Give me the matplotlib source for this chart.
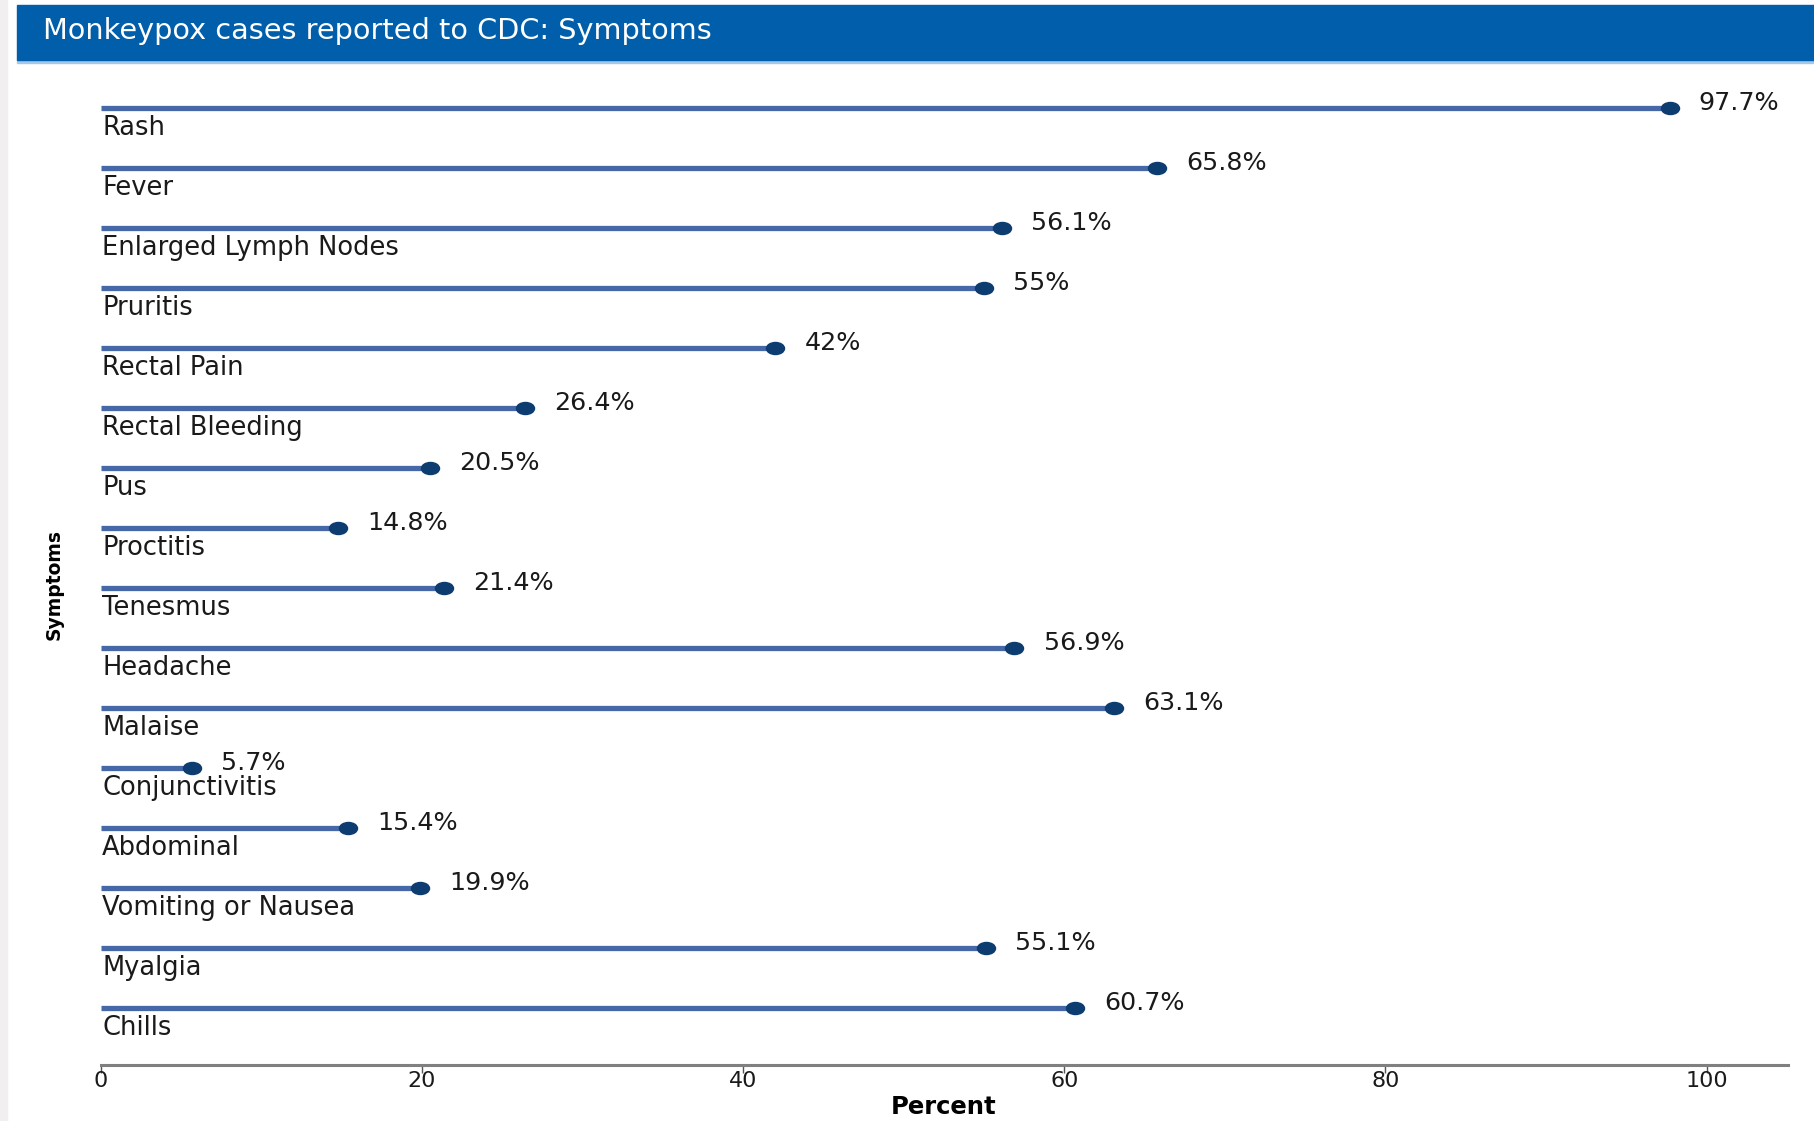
import matplotlib.pyplot as plt
from matplotlib.patches import Rectangle
from matplotlib.path import Path
from matplotlib.transforms import Affine2D

symptoms = ["Rash", "Fever", "Enlarged Lymph Nodes", "Pruritis", "Rectal Pain",
            "Rectal Bleeding", "Pus", "Proctitis", "Tenesmus", "Headache",
            "Malaise", "Conjunctivitis", "Abdominal", "Vomiting or Nausea",
            "Myalgia", "Chills"]
percents = [97.7, 65.8, 56.1, 55, 42, 26.4, 20.5, 14.8, 21.4, 56.9, 63.1,
            5.7, 15.4, 19.9, 55.1, 60.7]
xTicks = [0, 20, 40, 60, 80, 100]

plt.rcParams['font.family'] = ['DejaVu Sans']

W, H = 1814, 1121
fig = plt.figure(figsize=(W / 100, H / 100), dpi=100)
fig.patch.set_facecolor('white')

# left gray strip and header band
fig.patches.append(Rectangle((0, 0), 7 / W, 1, transform=fig.transFigure,
                             color='#f1efef', zorder=0))
fig.patches.append(Rectangle((17 / W, 1 - 63 / H), 1, 4 / H, transform=fig.transFigure,
                             color='#a4c8ea', zorder=1))
fig.patches.append(Rectangle((17 / W, 1 - 60 / H), 1, 55 / H, transform=fig.transFigure,
                             color='#005eaa', zorder=1))
fig.text(43 / W, 1 - 31 / H, "Monkeypox cases reported to CDC: Symptoms",
         color='white', fontsize=20.7, va='center', ha='left')

ax = fig.add_axes([100.6 / W, 1 - 1064.5 / H, (1788.5 - 100.6) / W, (1064.5 - 65.6) / H])
ax.set_xlim(0, 105.1)
ax.set_ylim(15.95, -0.7)

dot = Path.unit_circle().transformed(Affine2D().scale(1.5, 1.0))
lineColor = '#4768a6'
dotColor = '#0c3c70'

for i in range(len(symptoms)):
    ax.plot([0, percents[i]], [i, i], color=lineColor, lw=3.8,
            solid_capstyle='butt', zorder=2)
    ax.plot(percents[i], i, marker=dot, markersize=13, color=dotColor, zorder=3)
    ax.text(0.1, i + 0.455, symptoms[i], fontsize=18.5, va='baseline', ha='left',
            color='#1a1a1a')
    ax.annotate(f"{percents[i]:g}%", (percents[i], i), xytext=(21, 3.5),
                textcoords='offset points', fontsize=18.3, va='center',
                ha='left', color='#1a1a1a')

for s in ['top', 'right', 'left']:
    ax.spines[s].set_visible(False)
ax.spines['bottom'].set_color('#808080')
ax.spines['bottom'].set_linewidth(2.2)
ax.set_yticks([])
ax.set_xticks(xTicks)
ax.tick_params(axis='x', length=6, width=1, color='#555555', pad=-1,
               labelsize=16, labelcolor='#1a1a1a')

fig.text(944 / W, 1 - 1107 / H, "Percent", fontweight='bold', fontsize=17.5,
         ha='center', va='center')
fig.text(54 / W, 1 - 584 / H, "Symptoms", fontweight='bold', fontsize=13.5,
         rotation=90, ha='center', va='center')

fig.savefig("out.png", dpi=100)
